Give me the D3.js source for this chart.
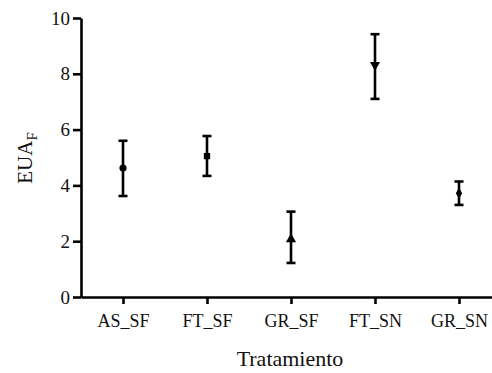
<!DOCTYPE html>
<html><head><meta charset="utf-8">
<script src="https://cdn.jsdelivr.net/npm/d3@7"></script>
<style>
body{margin:0;background:#fff;}
svg{display:block;}
svg text{font-family:"Liberation Serif","Times New Roman",Times,serif !important;}
</style></head>
<body><svg id="c" width="492" height="373"></svg>
<script>
const categories = ["AS_SF","FT_SF","GR_SF","FT_SN","GR_SN"];
const means = [4.62, 5.05, 2.07, 8.32, 3.72];
const upper = [5.60, 5.77, 3.06, 9.42, 4.14];
const lower = [3.62, 4.34, 1.22, 7.10, 3.30];
const markers = ["circle","square","triangleUp","triangleDown","diamond"];
const yTicks = [0,2,4,6,8,10];

const svg = d3.select("#c");
const x = d3.scalePoint().domain(categories).range([81, 501]).padding(0.5);
const y = d3.scaleLinear().domain([0,10]).range([297, 18]);

const yAxis = svg.append("g").attr("transform","translate(81,0)")
  .call(d3.axisLeft(y).tickValues(yTicks).tickSize(8).tickSizeOuter(0).tickPadding(3));
const xAxis = svg.append("g").attr("transform","translate(0,297)")
  .call(d3.axisBottom(x).tickSize(7).tickSizeOuter(0).tickPadding(10));
[yAxis,xAxis].forEach(g=>{
  g.attr("font-family",null);
  g.selectAll("path.domain").attr("stroke","#000").attr("stroke-width",2.6);
  g.selectAll(".tick line").attr("stroke","#000").attr("stroke-width",2.6);
  g.selectAll("text").attr("fill","#111").style("font-size","18px");
});
yAxis.selectAll("text").style("font-size","19px");

const data = categories.map((c,i)=>({c, m:means[i], u:upper[i], l:lower[i], k:markers[i]}));
const g = svg.append("g");
data.forEach(d=>{
  const cx = x(d.c);
  g.append("line").attr("x1",cx).attr("x2",cx).attr("y1",y(d.u)).attr("y2",y(d.l))
    .attr("stroke","#000").attr("stroke-width",2.6);
  [d.u,d.l].forEach(v=>g.append("line").attr("x1",cx-4.5).attr("x2",cx+4.5)
    .attr("y1",y(v)).attr("y2",y(v)).attr("stroke","#000").attr("stroke-width",2.6));
  let sym, rot=0;
  if(d.k==="circle") sym=d3.symbol(d3.symbolCircle,40);
  else if(d.k==="square") sym=d3.symbol(d3.symbolSquare,40);
  else if(d.k==="triangleUp") sym=d3.symbol(d3.symbolTriangle,45);
  else if(d.k==="triangleDown"){ sym=d3.symbol(d3.symbolTriangle,45); rot=180; }
  else sym=d3.symbol(d3.symbolDiamond,35);
  g.append("path").attr("d",sym()).attr("fill","#000")
    .attr("transform",`translate(${cx},${y(d.m)}) rotate(${rot})`);
});

svg.append("text").attr("x",290).attr("y",366).attr("text-anchor","middle")
  .style("font-size","22px").attr("fill","#111").text("Tratamiento");
const yl = svg.append("text").attr("transform","translate(32,158) rotate(-90)")
  .attr("text-anchor","middle").style("font-size","21px").attr("fill","#111");
yl.append("tspan").text("EUA");
yl.append("tspan").attr("dy",5).style("font-size","15px").text("F");
</script></body></html>
